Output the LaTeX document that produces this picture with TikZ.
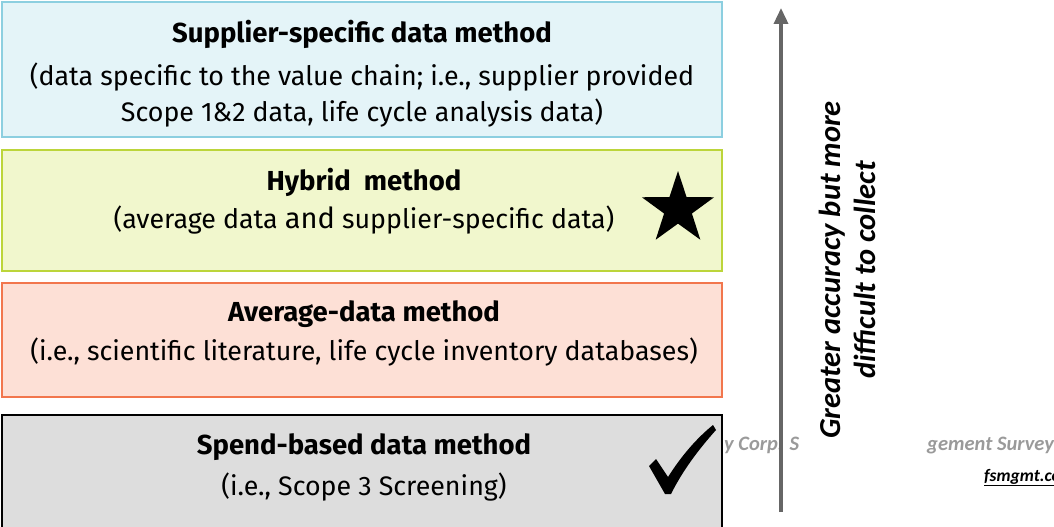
\documentclass[tikz,border=0pt]{standalone}
\usepackage{fontspec}
\setmainfont{Fira Sans}
\newfontfamily\sidefont{Carlito}
\usetikzlibrary{arrows.meta,shapes.geometric}
\definecolor{blueF}{HTML}{E4F4F8}
\definecolor{blueD}{HTML}{8CCFE0}
\definecolor{greenF}{HTML}{F1F7CD}
\definecolor{greenD}{HTML}{BCD53A}
\definecolor{redF}{HTML}{FDE0D6}
\definecolor{redD}{HTML}{F2764D}
\definecolor{greyF}{HTML}{DDDDDD}
\definecolor{arrowC}{HTML}{666666}
\definecolor{wmC}{HTML}{9A9A9A}
\tikzset{
  box/.style={draw, line width=2pt, minimum width=720pt, inner sep=0pt},
  ttl/.style={font=\fontsize{27.5}{30}\selectfont\bfseries, inner sep=0pt, anchor=center},
  sub/.style={font=\fontsize{26.8}{36}\selectfont, align=center, inner sep=0pt, anchor=center},
  wm/.style={font=\sidefont\fontsize{20.5}{22}\selectfont\bfseries\itshape, inner sep=0pt, anchor=base west}
}
\begin{document}
\begin{tikzpicture}[x=1pt,y=-1pt]
\useasboundingbox (0,0) rectangle (1054,527);
\node[box, draw=blueD, fill=blueF, minimum height=135pt] (b1) at (362,69.5) {};
\node[box, draw=greenD, fill=greenF, minimum height=121pt] (b2) at (362,210.5) {};
\node[box, draw=redD, fill=redF, minimum height=114pt] (b3) at (362,340) {};
\node[box, draw=black, line width=2.5pt, fill=greyF, minimum height=124pt] (b4) at (362,477) {};

\node[ttl] (t1) at (362,34) {Supplier-specific data method};
\node[sub] (s1) at (362,95) {(data specific to the value chain; i.e., supplier provided\\Scope 1\&2 data, life cycle analysis data)};
\node[ttl] (t2) at (364,182) {Hybrid\ \ method};
\node[sub] (s2) at (364,220) {(average data {\fontsize{29}{30}\selectfont and} supplier-specific data)};
\node[ttl] (t3) at (364,314) {Average-data method};
\node[sub] (s3) at (364,352) {(i.e., scientific literature, life cycle inventory databases)};
\node[ttl] (t4) at (364,447) {Spend-based data method};
\node[sub] (s4) at (364,487) {(i.e., Scope 3 Screening)};

\node[star, star points=5, star point ratio=2.6, fill=black, minimum size=76pt, inner sep=0pt] (star) at (678,209) {};
\fill[black] (649,466) -- (656,459) -- (668,477) .. controls (682,455) and (697,438) .. (713,425) -- (716,430) .. controls (699,449) and (683,470) .. (671,494) -- (665,494) -- cycle;

\node[wm, text=wmC] (w1) at (724,450) {y Corp. S};
\node[wm, text=wmC] (w2) at (927,450) {gement Survey};
\node[wm, text=black, font=\sidefont\fontsize{17.5}{20}\selectfont\bfseries\itshape] (w3) at (984,481) {\underline{fsmgmt.co}};

\coordinate (abot) at (781,512);
\coordinate (atop) at (781,8);
\draw[arrowC, line width=3.5pt, -{Triangle[width=14pt,length=16pt]}] (abot) -- (atop);

\node[rotate=90, fill=white, inner sep=2pt, align=center, font=\sidefont\fontsize{30.5}{35}\selectfont\bfseries\itshape] (side) at (847,270) {Greater accuracy but more\\difficult to collect};
\end{tikzpicture}
\end{document}
